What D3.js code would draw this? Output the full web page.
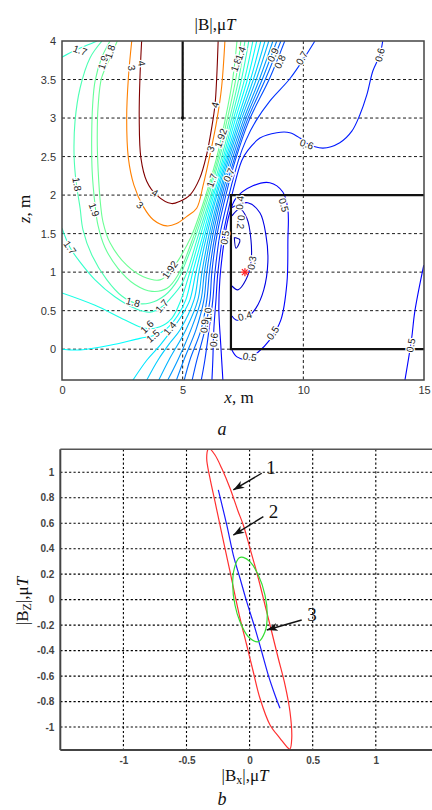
<!DOCTYPE html>
<html><head><meta charset="utf-8">
<script src="https://cdn.jsdelivr.net/npm/d3@7"></script>
<style>body{margin:0;background:#fff;} svg{display:block;}</style>
</head><body><svg id="c" width="432" height="810"></svg>
<script>
// ---------- top panel data (x, z in metres) ----------
const topXTicks = [0, 5, 10, 15];
const topZTicks = [0, 0.5, 1, 1.5, 2, 2.5, 3, 3.5, 4];
const topXGrid = [5, 10];
const topZGrid = [0, 0.5, 1, 1.5, 2, 2.5, 3, 3.5];

const c400 = [[3.30,4.0],[3.23,3.52],[3.20,3.0],[3.27,2.48],[3.51,2.18],[3.92,2.0],[4.54,1.89],[4.89,1.92],[5.30,2.0],[5.71,2.22],[5.99,2.52],[6.20,2.87],[6.34,3.17],[6.41,3.52],[6.47,4.0]];
const c300 = [[2.89,4.0],[2.75,3.52],[2.68,3.0],[2.75,2.48],[2.98,2.13],[3.37,1.85],[3.78,1.68],[4.34,1.60],[4.75,1.63],[5.16,1.72],[5.58,1.83],[5.85,2.13],[6.13,2.52],[6.41,2.96],[6.61,3.39],[6.75,4.0]];
const c192 = [[2.29,4.00],[1.99,3.78],[1.64,3.52],[1.50,3.17],[1.46,2.74],[1.50,2.31],[1.60,1.87],[1.70,1.65],[1.99,1.38],[2.68,1.09],[3.37,0.94],[4.06,0.90],[4.47,1.00],[4.89,1.19],[5.38,1.48],[5.96,2.00],[6.38,2.45],[6.75,2.96],[7.08,3.52],[7.25,4.00]];
const c190 = [[1.99,4.00],[1.64,3.78],[1.37,3.48],[1.27,3.17],[1.23,2.74],[1.25,2.31],[1.37,1.87],[1.49,1.61],[1.78,1.32],[2.32,1.05],[3.02,0.84],[3.73,0.75],[4.35,0.79],[4.80,0.96],[5.47,1.48],[6.02,2.00],[6.44,2.45],[6.83,2.96],[7.21,3.52],[7.41,4.00]];
const c180 = [[1.66,4.00],[1.16,3.78],[0.75,3.39],[0.54,2.96],[0.50,2.52],[0.58,2.18],[0.75,1.83],[0.87,1.55],[1.24,1.22],[1.86,0.90],[2.48,0.69],[3.02,0.60],[3.64,0.60],[4.27,0.70],[4.80,0.90],[5.13,1.13],[5.55,1.48],[6.09,2.00],[6.50,2.45],[6.92,2.96],[7.33,3.52],[7.58,4.00]];
const c170 = [[0.00,1.57],[0.33,1.32],[0.75,1.13],[1.37,0.90],[2.19,0.68],[3.02,0.53],[3.64,0.48],[4.14,0.55],[4.55,0.68],[4.93,0.83],[5.18,1.00],[5.65,1.48],[6.17,2.00],[6.58,2.45],[7.00,2.96],[7.45,3.52],[7.74,4.00]];
const c170b = [[0.00,3.79],[0.54,3.88],[1.08,3.95],[1.45,4.00]];
const c160 = [[0.00,0.73],[1.37,0.57],[2.61,0.38],[3.44,0.27],[4.06,0.29],[4.55,0.40],[4.93,0.64],[5.30,1.00],[5.74,1.48],[6.23,2.00],[6.65,2.45],[7.08,2.96],[7.58,3.52],[7.91,4.00]];
const c150 = [[0.00,0.00],[0.75,-0.01],[1.99,0.05],[3.23,0.14],[3.85,0.18],[4.35,0.27],[4.80,0.44],[5.13,0.64],[5.42,1.00],[5.84,1.48],[6.29,2.00],[6.71,2.45],[7.16,2.96],[7.70,3.52],[8.07,4.00]];
const c140 = [[2.90,-0.42],[3.52,-0.14],[4.06,0.05],[4.55,0.25],[4.97,0.44],[5.30,0.64],[5.55,1.00],[5.92,1.48],[6.36,2.00],[6.77,2.45],[7.25,2.96],[7.83,3.52],[8.24,4.00]];
const c130 = [[3.48,-0.42],[3.98,-0.14],[4.47,0.08],[4.89,0.25],[5.47,0.64],[5.67,1.00],[6.00,1.48],[6.42,2.00],[6.83,2.45],[7.33,2.96],[7.95,3.52],[8.41,4.00]];
const c120 = [[3.98,-0.42],[4.43,-0.14],[5.13,0.25],[5.63,0.64],[5.80,1.00],[6.09,1.48],[6.50,2.00],[6.89,2.45],[7.41,2.96],[8.07,3.52],[8.57,4.00]];
const c110 = [[4.35,-0.42],[4.80,-0.14],[5.34,0.25],[5.76,0.64],[5.90,1.00],[6.17,1.48],[6.56,2.00],[6.96,2.45],[7.50,2.96],[8.20,3.52],[8.74,4.00]];
const c100 = [[4.72,-0.42],[5.05,-0.14],[5.55,0.25],[5.88,0.64],[6.00,1.00],[6.25,1.48],[6.63,2.00],[7.04,2.45],[7.58,2.96],[8.32,3.52],[8.90,4.00]];
const c090 = [[5.05,-0.42],[5.30,-0.14],[5.76,0.25],[6.00,0.64],[6.11,1.00],[6.34,1.48],[6.71,2.00],[7.12,2.45],[7.66,2.96],[8.45,3.52],[9.07,4.00]];
const c080 = [[5.38,-0.42],[5.59,-0.14],[5.92,0.25],[6.13,0.64],[6.21,1.00],[6.42,1.48],[6.79,2.00],[7.18,2.45],[7.74,2.96],[8.61,3.52],[9.23,4.00]];
const c070 = [[5.76,-0.42],[5.92,-0.14],[6.09,0.25],[6.25,0.64],[6.34,1.00],[6.54,1.48],[6.92,2.00],[7.31,2.45],[7.62,2.71],[8.03,2.96],[8.61,3.22],[9.44,3.51],[10.06,3.79],[10.48,4.00]];
const c060 = [[6.21,-0.42],[6.25,-0.14],[6.29,0.25],[6.38,0.64],[6.46,1.00],[6.67,1.48],[7.04,2.00],[7.45,2.45],[7.70,2.58],[8.20,2.74],[8.90,2.81],[9.44,2.81],[9.86,2.74],[10.10,2.68],[10.81,2.61],[11.51,2.68],[12.01,2.83],[12.34,3.04],[12.63,3.30],[12.88,3.61],[13.17,3.82],[13.29,4.00]];
const c050 = [[6.67,-0.42],[6.58,0.05],[6.50,0.51],[6.54,0.90],[6.67,1.29],[6.79,1.55],[6.96,1.78],[7.21,1.96],[7.91,2.12],[8.61,2.16],[9.15,2.04],[9.36,1.81],[9.36,1.42],[9.32,0.86],[9.07,0.38],[8.61,0.12],[8.12,-0.04],[7.66,-0.13],[7.25,-0.10],[7.04,-0.01]];
const c050b = [[14.99,1.09],[14.62,0.49],[14.48,0.12],[14.20,-0.42]];
const c040 = [[7.04,1.84],[7.70,1.90],[8.20,1.77],[8.45,1.48],[8.53,1.13],[8.36,0.77],[8.03,0.53],[7.62,0.40],[7.21,0.38],[7.04,0.43]];
const c030 = [[7.04,1.73],[7.37,1.82],[7.66,1.70],[7.83,1.42],[7.83,1.13],[7.62,0.90],[7.29,0.77],[7.04,0.82]];
const c020 = [[7.14,1.45],[7.37,1.42],[7.21,1.31],[7.14,1.45]];

const contourLevels = [4, 3, 1.92, 1.9, 1.8, 1.7, 1.7, 1.6, 1.5, 1.4, 1.3, 1.2, 1.1, 1.0, 0.9, 0.8, 0.7, 0.6, 0.5, 0.5, 0.4, 0.3, 0.2];
const contourPaths  = [c400, c300, c192, c190, c180, c170, c170b, c160, c150, c140, c130, c120, c110, c100, c090, c080, c070, c060, c050, c050b, c040, c030, c020];

// label text, x, z, angle
const labelText  = ["1.7","1.9","1.8","3","4","1.8","1.9","4","3","4","3","1.92","1.8","1.4","0.9","0.8","0.7","0.6","0.6","1.7","0.7","0.4","0.5","0.5","0.2","0.3","0.4","0.5","0.5","0.5","1.92","1.7","1.8","1.7","1.6","1.5","1.4","1.0","0.9","0.6"];
const labelX     = [0.75,1.70,1.99,2.89,3.30,0.62,1.33,3.85,3.23,6.34,6.16,6.58,7.21,7.40,8.74,9.03,9.94,13.17,10.14,6.21,6.92,7.37,9.19,6.75,7.41,7.87,7.58,8.74,7.78,14.45,4.47,0.33,2.94,4.14,3.52,3.77,4.47,6.05,5.90,6.29];
const labelZ     = [3.88,3.72,3.86,3.65,3.71,2.14,1.81,2.03,1.87,3.17,2.60,2.74,3.69,3.84,3.82,3.73,3.78,3.82,2.66,2.19,2.26,1.90,1.87,1.45,1.65,1.12,0.43,0.21,-0.10,0.05,1.03,1.32,0.61,0.56,0.29,0.17,0.27,0.45,0.30,0.12];
const labelAngle = [20,-72,-72,80,80,80,70,30,40,-75,-70,-70,-70,-70,-65,-65,-60,-75,20,-70,-65,-85,75,-80,95,-80,-15,-55,10,-80,-55,55,15,-50,-45,-40,-50,-88,-85,-85];

const wallVertical = [[5,3],[5,4]];
const wallBox = [[15,2],[7,2],[7,0],[15,0]];
const starPoint = [7.58, 1.0];

// ---------- bottom panel data (Bx, Bz in µT) ----------
const botXTicks = [-1, -0.5, 0, 0.5, 1];
const botXGrid = [-1, -0.5, 0, 0.5, 1, 1.5];
const botYTicks = [-1, -0.8, -0.6, -0.4, -0.2, 0, 0.2, 0.4, 0.6, 0.8, 1];

const ellipse1 = [[-0.327,1.182],[-0.340,1.110],[-0.314,0.953],[-0.274,0.769],[-0.235,0.586],[-0.195,0.403],[-0.155,0.219],[-0.116,0.036],[-0.076,-0.146],[-0.023,-0.356],[0.029,-0.566],[0.082,-0.774],[0.162,-0.984],[0.241,-1.088],[0.307,-1.167],[0.320,-1.172],[0.334,-1.088],[0.320,-0.880],[0.281,-0.670],[0.227,-0.460],[0.175,-0.252],[0.122,-0.042],[0.069,0.168],[0.003,0.403],[-0.050,0.586],[-0.090,0.690],[-0.155,0.874],[-0.221,1.031],[-0.274,1.135],[-0.314,1.182]];
const line2 = [[-0.248,0.861],[-0.181,0.586],[-0.129,0.350],[-0.076,0.168],[-0.023,-0.016],[0.043,-0.225],[0.096,-0.409],[0.148,-0.592],[0.201,-0.748],[0.241,-0.853]];
const ellipse3 = [[-0.082,0.329],[-0.121,0.246],[-0.134,0.115],[-0.116,-0.042],[-0.076,-0.173],[-0.010,-0.291],[0.069,-0.330],[0.122,-0.252],[0.140,-0.121],[0.122,0.036],[0.069,0.193],[0.003,0.298],[-0.050,0.332]];

const arrowLabels = ["1", "2", "3"];
const arrowFrom = [[0.096,0.992],[0.109,0.651],[0.413,-0.160]];
const arrowTo   = [[-0.129,0.861],[-0.129,0.507],[0.136,-0.238]];
const arrowLabelPos = [[0.170,1.041],[0.190,0.690],[0.494,-0.120]];

// ---------- drawing ----------
const svg = d3.select("#c");
const serif = "'Liberation Serif','Times New Roman',serif";
const sans = "'Liberation Sans',Arial,sans-serif";

function jet(t) {
  const c = v => Math.max(0, Math.min(1, v));
  const r = c(1.5 - Math.abs(4 * t - 3)), g = c(1.5 - Math.abs(4 * t - 2)), b = c(1.5 - Math.abs(4 * t - 1));
  return d3.rgb(r * 255, g * 255, b * 255).toString();
}
const levelColor = v => jet(v / 4);

// ===== TOP PANEL =====
const xS = d3.scaleLinear().domain([0, 15]).range([62, 424]);
const zS = d3.scaleLinear().domain([-0.4, 4]).range([380, 41]);

const defs = svg.append("defs");
defs.append("clipPath").attr("id", "clipTop").append("rect")
  .attr("x", xS(0)).attr("y", zS(4)).attr("width", xS(15) - xS(0)).attr("height", zS(-0.4) - zS(4));

const gT = svg.append("g");
// grid
gT.selectAll(".gx").data(topXGrid).join("line")
  .attr("x1", d => xS(d)).attr("x2", d => xS(d)).attr("y1", zS(4)).attr("y2", zS(-0.4))
  .attr("stroke", "#000").attr("stroke-width", 0.9).attr("stroke-dasharray", "3,2.5");
gT.selectAll(".gz").data(topZGrid).join("line")
  .attr("x1", xS(0)).attr("x2", xS(15)).attr("y1", d => zS(d)).attr("y2", d => zS(d))
  .attr("stroke", "#000").attr("stroke-width", 0.9).attr("stroke-dasharray", "3,2.5");

const lineT = d3.line().x(d => xS(d[0])).y(d => zS(d[1])).curve(d3.curveCatmullRom.alpha(0.5));
const cg = gT.append("g").attr("clip-path", "url(#clipTop)");
cg.selectAll("path.ct").data(contourPaths).join("path")
  .attr("d", lineT).attr("fill", "none")
  .attr("stroke", (d, i) => levelColor(contourLevels[i])).attr("stroke-width", 1.1);

// walls
const lineStraight = d3.line().x(d => xS(d[0])).y(d => zS(d[1]));
cg.append("path").attr("d", lineStraight(wallVertical)).attr("stroke", "#111").attr("stroke-width", 2.2).attr("fill", "none");
cg.append("path").attr("d", lineStraight(wallBox)).attr("stroke", "#111").attr("stroke-width", 2.2).attr("fill", "none");
cg.append("circle").attr("cx", xS(wallVertical[0][0])).attr("cy", zS(wallVertical[0][1])).attr("r", 1.8).attr("fill", "#111");

// star
const sx = xS(starPoint[0]), sy = zS(starPoint[1]);
const starG = cg.append("g").attr("stroke", "#ff2020").attr("stroke-width", 1.3);
starG.append("line").attr("x1", sx - 4).attr("x2", sx + 4).attr("y1", sy).attr("y2", sy);
starG.append("line").attr("x1", sx).attr("x2", sx).attr("y1", sy - 4).attr("y2", sy + 4);
starG.append("line").attr("x1", sx - 3).attr("x2", sx + 3).attr("y1", sy - 3).attr("y2", sy + 3);
starG.append("line").attr("x1", sx - 3).attr("x2", sx + 3).attr("y1", sy + 3).attr("y2", sy - 3);

// contour labels
cg.selectAll("text.cl").data(labelText).join("text")
  .attr("transform", (d, i) => `translate(${xS(labelX[i])},${zS(labelZ[i])}) rotate(${labelAngle[i]})`)
  .attr("text-anchor", "middle").attr("dominant-baseline", "central")
  .attr("font-family", sans).attr("font-size", 10).attr("fill", "#222")
  .attr("stroke", "#fff").attr("stroke-width", 2.5).attr("paint-order", "stroke")
  .text(d => d);

// frame
gT.append("rect").attr("x", xS(0)).attr("y", zS(4)).attr("width", xS(15) - xS(0)).attr("height", zS(-0.4) - zS(4))
  .attr("fill", "none").attr("stroke", "#444").attr("stroke-width", 1.5);

// axes
const axTopX = d3.axisBottom(xS).tickValues(topXTicks).tickSize(0).tickPadding(6).tickFormat(d3.format("d"));
const axTopZ = d3.axisLeft(zS).tickValues(topZTicks).tickSize(0).tickPadding(6).tickFormat(d => String(d));
const gax = gT.append("g").attr("transform", `translate(0,${zS(-0.4)})`).call(axTopX);
const gaz = gT.append("g").attr("transform", `translate(${xS(0)},0)`).call(axTopZ);
[gax, gaz].forEach(g => {
  g.select(".domain").remove();
  g.selectAll("text").attr("font-family", sans).attr("font-size", 11).attr("fill", "#333");
});

// titles
const title = svg.append("text").attr("x", 215).attr("y", 30).attr("text-anchor", "middle")
  .attr("font-family", serif).attr("font-size", 17).attr("fill", "#111");
title.append("tspan").text("|B|,μ");
title.append("tspan").attr("font-style", "italic").text("T");

const zl = svg.append("text").attr("transform", "translate(30,209) rotate(-90)").attr("text-anchor", "middle")
  .attr("font-family", serif).attr("font-size", 17).attr("fill", "#111");
zl.append("tspan").attr("font-style", "italic").text("z");
zl.append("tspan").text(", m");

const xl = svg.append("text").attr("x", 239).attr("y", 403).attr("text-anchor", "middle")
  .attr("font-family", serif).attr("font-size", 17).attr("fill", "#111");
xl.append("tspan").attr("font-style", "italic").text("x");
xl.append("tspan").text(", m");

svg.append("text").attr("x", 222).attr("y", 435).attr("text-anchor", "middle")
  .attr("font-family", serif).attr("font-size", 18).attr("font-style", "italic").attr("fill", "#111").text("a");

// ===== BOTTOM PANEL =====
const bx = d3.scaleLinear().domain([-1.5, 1.5]).range([60.3, 438.9]);
const by = d3.scaleLinear().domain([-1.18, 1.18]).range([750, 449.3]);

defs.append("clipPath").attr("id", "clipBot").append("rect")
  .attr("x", bx(-1.5)).attr("y", by(1.18)).attr("width", bx(1.5) - bx(-1.5)).attr("height", by(-1.18) - by(1.18));

const gB = svg.append("g");
gB.selectAll(".bgx").data(botXGrid).join("line")
  .attr("x1", d => bx(d)).attr("x2", d => bx(d)).attr("y1", by(1.18)).attr("y2", by(-1.18))
  .attr("stroke", "#000").attr("stroke-width", 1.1).attr("stroke-dasharray", "2.2,2.2");
gB.selectAll(".bgy").data(botYTicks).join("line")
  .attr("x1", bx(-1.5)).attr("x2", bx(1.5)).attr("y1", d => by(d)).attr("y2", d => by(d))
  .attr("stroke", "#000").attr("stroke-width", 1.1).attr("stroke-dasharray", "2.2,2.2");

const bg = gB.append("g").attr("clip-path", "url(#clipBot)");
const lineClosed = d3.line().x(d => bx(d[0])).y(d => by(d[1])).curve(d3.curveCatmullRomClosed.alpha(0.5));
const lineOpen = d3.line().x(d => bx(d[0])).y(d => by(d[1])).curve(d3.curveCatmullRom.alpha(0.5));
bg.append("path").attr("d", lineClosed(ellipse1)).attr("fill", "none").attr("stroke", "#ff3030").attr("stroke-width", 1.2);
bg.append("path").attr("d", lineOpen(line2)).attr("fill", "none").attr("stroke", "#1a1aff").attr("stroke-width", 1.2);
bg.append("path").attr("d", lineClosed(ellipse3)).attr("fill", "none").attr("stroke", "#33dd33").attr("stroke-width", 1.2);

// arrows
defs.append("marker").attr("id", "ah").attr("markerUnits", "userSpaceOnUse")
  .attr("markerWidth", 12).attr("markerHeight", 10).attr("refX", 11).attr("refY", 4)
  .attr("orient", "auto").append("path").attr("d", "M0,0 L11,4 L0,8 L3,4 Z").attr("fill", "#111");
gB.selectAll("line.arr").data(arrowFrom).join("line")
  .attr("x1", d => bx(d[0])).attr("y1", d => by(d[1]))
  .attr("x2", (d, i) => bx(arrowTo[i][0])).attr("y2", (d, i) => by(arrowTo[i][1]))
  .attr("stroke", "#111").attr("stroke-width", 1.4).attr("marker-end", "url(#ah)");
gB.selectAll("text.al").data(arrowLabels).join("text")
  .attr("x", (d, i) => bx(arrowLabelPos[i][0])).attr("y", (d, i) => by(arrowLabelPos[i][1]))
  .attr("text-anchor", "middle").attr("dominant-baseline", "central")
  .attr("font-family", serif).attr("font-size", 19).attr("fill", "#111").text(d => d);

// frame (left, top, bottom)
gB.append("line").attr("x1", bx(-1.5)).attr("x2", bx(-1.5)).attr("y1", by(1.18)).attr("y2", by(-1.18)).attr("stroke", "#444").attr("stroke-width", 2);
gB.append("line").attr("x1", bx(-1.5)).attr("x2", bx(1.5)).attr("y1", by(1.18)).attr("y2", by(1.18)).attr("stroke", "#555").attr("stroke-width", 1.5);
gB.append("line").attr("x1", bx(-1.5)).attr("x2", bx(1.5)).attr("y1", by(-1.18)).attr("y2", by(-1.18)).attr("stroke", "#444").attr("stroke-width", 2);

const axBX = d3.axisBottom(bx).tickValues(botXTicks).tickSize(0).tickPadding(7).tickFormat(d => String(d).replace("−", "-"));
const axBY = d3.axisLeft(by).tickValues(botYTicks).tickSize(0).tickPadding(6).tickFormat(d => String(d).replace("−", "-"));
const gbx = gB.append("g").attr("transform", `translate(0,${by(-1.18)})`).call(axBX);
const gby = gB.append("g").attr("transform", `translate(${bx(-1.5)},0)`).call(axBY);
[gbx, gby].forEach(g => {
  g.select(".domain").remove();
  g.selectAll("text").attr("font-family", sans).attr("font-size", 10).attr("font-weight", "bold").attr("fill", "#444");
});

const byl = svg.append("text").attr("transform", "translate(28,601) rotate(-90)").attr("text-anchor", "middle")
  .attr("font-family", serif).attr("font-size", 17).attr("fill", "#111");
byl.append("tspan").text("|B");
byl.append("tspan").attr("font-size", 12).attr("dy", 3).text("Z");
byl.append("tspan").attr("dy", -3).text("|,μ");
byl.append("tspan").attr("font-style", "italic").text("T");

const bxl = svg.append("text").attr("x", 245).attr("y", 781).attr("text-anchor", "middle")
  .attr("font-family", serif).attr("font-size", 17).attr("fill", "#111");
bxl.append("tspan").text("|B");
bxl.append("tspan").attr("font-size", 12).attr("dy", 3).text("x");
bxl.append("tspan").attr("dy", -3).text("|,μ");
bxl.append("tspan").attr("font-style", "italic").text("T");

svg.append("text").attr("x", 222).attr("y", 805).attr("text-anchor", "middle")
  .attr("font-family", serif).attr("font-size", 18).attr("font-style", "italic").attr("fill", "#111").text("b");
</script></body></html>
